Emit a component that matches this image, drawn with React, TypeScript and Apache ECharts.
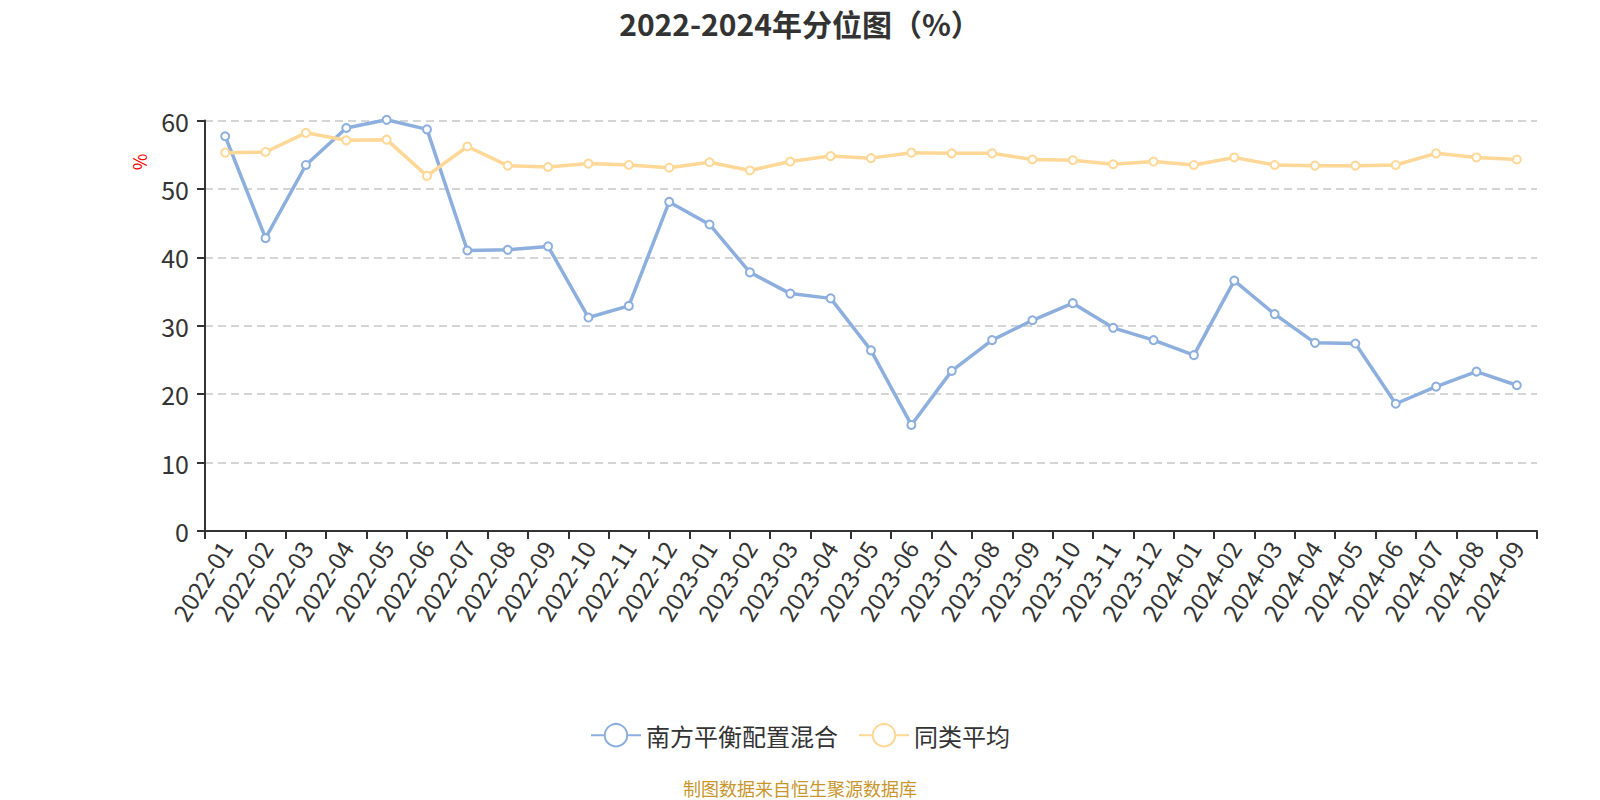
import React, { useEffect, useRef } from "react";
import * as echarts from "echarts";

const categories = [
  "2022-01", "2022-02", "2022-03", "2022-04", "2022-05", "2022-06",
  "2022-07", "2022-08", "2022-09", "2022-10", "2022-11", "2022-12",
  "2023-01", "2023-02", "2023-03", "2023-04", "2023-05", "2023-06",
  "2023-07", "2023-08", "2023-09", "2023-10", "2023-11", "2023-12",
  "2024-01", "2024-02", "2024-03", "2024-04", "2024-05", "2024-06",
  "2024-07", "2024-08", "2024-09",
];

const fundValues = [
  57.7, 42.8, 53.5, 58.9, 60.1, 58.7, 41.0, 41.1, 41.6, 31.2, 32.9, 48.1,
  44.8, 37.8, 34.7, 34.0, 26.4, 15.5, 23.4, 27.9, 30.8, 33.3, 29.7, 27.9,
  25.7, 36.6, 31.7, 27.5, 27.4, 18.6, 21.1, 23.3, 21.3,
];

const peerAverage = [
  55.3, 55.4, 58.2, 57.1, 57.2, 51.9, 56.2, 53.4, 53.2, 53.7, 53.5, 53.1,
  53.9, 52.7, 54.0, 54.8, 54.5, 55.3, 55.2, 55.2, 54.3, 54.2, 53.6, 54.0,
  53.5, 54.6, 53.5, 53.4, 53.4, 53.5, 55.2, 54.6, 54.3,
];

const seriesNames = ["南方平衡配置混合", "同类平均"];
const titleText = "2022-2024年分位图（%）";
const sourceText = "制图数据来自恒生聚源数据库";
const yAxisUnit = "%";

const FONT = '"Noto Sans CJK SC", "Noto Sans", sans-serif';

export default function App() {
  const ref = useRef<HTMLDivElement>(null);

  useEffect(() => {
    if (!ref.current) return;
    const chart = echarts.init(ref.current, undefined, { renderer: "svg" });
    chart.setOption({
      animation: false,
      backgroundColor: "#ffffff",
      textStyle: { fontFamily: FONT },
      title: [
        {
          text: titleText,
          left: "center",
          top: 3,
          textStyle: { fontSize: 30, fontWeight: "bold", color: "#333333", fontFamily: FONT },
        },
        {
          text: sourceText,
          left: "center",
          top: 774,
          textStyle: { fontSize: 18, fontWeight: "normal", color: "#C8962E", fontFamily: FONT },
        },
      ],
      graphic: [
        {
          type: "text",
          x: 139,
          y: 162,
          rotation: Math.PI / 2,
          style: {
            text: yAxisUnit,
            fill: "#ff0000",
            fontSize: 18,
            fontFamily: FONT,
            align: "center",
            verticalAlign: "middle",
          },
        },
      ],
      legend: {
        top: 718,
        left: "center",
        itemWidth: 50,
        itemHeight: 28,
        itemGap: 20,
        textStyle: { fontSize: 24, color: "#333333", fontFamily: FONT },
        data: seriesNames,
      },
      grid: { left: 205, right: 63, top: 120.5, bottom: 269, containLabel: false },
      xAxis: {
        type: "category",
        data: categories,
        boundaryGap: true,
        axisLine: { show: true, lineStyle: { color: "#333333", width: 2 } },
        axisTick: { show: true, length: 8, lineStyle: { color: "#333333", width: 2 } },
        axisLabel: {
          interval: 0,
          rotate: 58,
          fontSize: 24,
          color: "#333333",
          margin: 12,
          fontFamily: FONT,
        },
        splitLine: { show: false },
      },
      yAxis: {
        type: "value",
        min: 0,
        max: 60,
        interval: 10,
        axisLine: { show: true, lineStyle: { color: "#333333", width: 2 } },
        axisTick: { show: true, length: 8, lineStyle: { color: "#333333", width: 2 } },
        axisLabel: { fontSize: 25, color: "#333333", margin: 16, fontFamily: FONT },
        splitLine: {
          show: true,
          lineStyle: { color: "#c8c8c8", width: 1.5, type: [8, 5] },
        },
      },
      series: [
        {
          name: seriesNames[0],
          type: "line",
          data: fundValues,
          clip: false,
          symbol: "emptyCircle",
          symbolSize: 8,
          color: "#8DAFDE",
          lineStyle: { width: 3.5, color: "#8DAFDE" },
          itemStyle: { color: "#8DAFDE", borderWidth: 1.5 },
        },
        {
          name: seriesNames[1],
          type: "line",
          data: peerAverage,
          clip: false,
          symbol: "emptyCircle",
          symbolSize: 8,
          color: "#FFD796",
          lineStyle: { width: 3.5, color: "#FFD796" },
          itemStyle: { color: "#FFD796", borderWidth: 1.5 },
        },
      ],
    });
    return () => chart.dispose();
  }, []);

  return (
    <div
      ref={ref}
      style={{ position: "absolute", left: 0, top: 0, width: 1600, height: 800 }}
    />
  );
}
